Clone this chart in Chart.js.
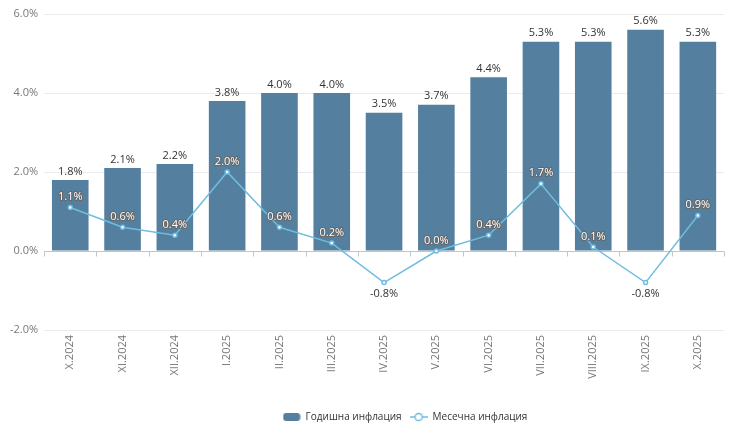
<!DOCTYPE html>
<html>
<head>
<meta charset="utf-8">
<script src="https://cdn.jsdelivr.net/npm/chart.js@4/dist/chart.umd.min.js"></script>
<style>
  html, body { margin: 0; padding: 0; background: #fff; }
  #wrap { width: 752px; height: 423px; position: relative; }
</style>
</head>
<body>
<div id="wrap"><canvas id="chart"></canvas></div>
<script>
const periods = ['X.2024', 'XI.2024', 'XII.2024', 'I.2025', 'II.2025', 'III.2025', 'IV.2025',
  'V.2025', 'VI.2025', 'VII.2025', 'VIII.2025', 'IX.2025', 'X.2025'];
const annualInflation = [1.8, 2.1, 2.2, 3.8, 4.0, 4.0, 3.5, 3.7, 4.4, 5.3, 5.3, 5.6, 5.3];
const monthlyInflation = [1.1, 0.6, 0.4, 2.0, 0.6, 0.2, -0.8, 0.0, 0.4, 1.7, 0.1, -0.8, 0.9];

const barColor = '#547f9e';
const lineColor = '#6fbde0';
const fontFamily = '"Open Sans", "Noto Sans", sans-serif';

// legend symbols drawn on small canvases
function barSymbol() {
  const c = document.createElement('canvas');
  c.width = 18; c.height = 10;
  const g = c.getContext('2d');
  g.fillStyle = barColor;
  g.beginPath();
  g.roundRect(0.5, 1, 17, 8, 3);
  g.fill();
  return c;
}
function lineSymbol() {
  const c = document.createElement('canvas');
  c.width = 18; c.height = 10;
  const g = c.getContext('2d');
  g.strokeStyle = lineColor;
  g.lineWidth = 1.5;
  g.beginPath();
  g.moveTo(0, 5); g.lineTo(18, 5);
  g.stroke();
  g.fillStyle = '#fff';
  g.beginPath();
  g.arc(9, 5, 3.6, 0, Math.PI * 2);
  g.fill();
  g.stroke();
  return c;
}
const legendSymbols = [barSymbol(), lineSymbol()];

// zero line with small ticks between categories
const zeroLine = {
  id: 'zeroLine',
  afterLayout(chart) {
    // legend sits a bit right of centre in the original
    chart.legend.left += 41;
    chart.legend.right += 41;
  },
  beforeDatasetsDraw(chart) {
    const { ctx, chartArea, scales } = chart;
    const y0 = Math.round(scales.y.getPixelForValue(0)) + 0.5;
    ctx.save();
    ctx.strokeStyle = '#c4c4c4';
    ctx.lineWidth = 1;
    ctx.beginPath();
    ctx.moveTo(chartArea.left, y0);
    ctx.lineTo(chartArea.right, y0);
    const step = (chartArea.right - chartArea.left) / periods.length;
    for (let i = 0; i <= periods.length; i++) {
      const x = Math.round(chartArea.left + i * step) + 0.5;
      ctx.moveTo(x, y0);
      ctx.lineTo(x, y0 + 5);
    }
    ctx.stroke();
    ctx.restore();
  }
};

const valueLabels = {
  id: 'valueLabels',
  afterDatasetsDraw(chart) {
    const { ctx } = chart;
    ctx.save();
    ctx.font = '11px ' + fontFamily;
    ctx.textAlign = 'center';

    chart.getDatasetMeta(0).data.forEach((bar, i) => {
      ctx.fillStyle = '#333';
      ctx.textBaseline = 'bottom';
      ctx.fillText(annualInflation[i].toFixed(1) + '%', bar.x, bar.y - 3);
    });

    chart.getDatasetMeta(1).data.forEach((pt, i) => {
      const v = monthlyInflation[i];
      const txt = v.toFixed(1) + '%';
      if (v < 0) {
        ctx.textBaseline = 'top';
        ctx.fillStyle = '#333';
        ctx.fillText(txt, pt.x, pt.y + 6);
      } else {
        ctx.textBaseline = 'bottom';
        ctx.lineWidth = 2;
        ctx.strokeStyle = '#666';
        ctx.lineJoin = 'round';
        ctx.strokeText(txt, pt.x, pt.y - 5);
        ctx.fillStyle = '#fff';
        ctx.fillText(txt, pt.x, pt.y - 5);
      }
    });
    ctx.restore();
  }
};

new Chart(document.getElementById('chart'), {
  data: {
    labels: periods,
    datasets: [
      {
        type: 'bar',
        label: 'Годишна инфлация',
        data: annualInflation,
        backgroundColor: barColor,
        categoryPercentage: 1,
        barPercentage: 0.7,
        order: 2
      },
      {
        type: 'line',
        label: 'Месечна инфлация',
        data: monthlyInflation,
        borderColor: lineColor,
        backgroundColor: lineColor,
        borderWidth: 1.5,
        pointStyle: 'circle',
        pointRadius: 2,
        pointBorderWidth: 1.5,
        pointBackgroundColor: '#fff',
        pointBorderColor: lineColor,
        tension: 0,
        order: 1
      }
    ]
  },
  options: {
    responsive: true,
    maintainAspectRatio: false,
    animation: false,
    layout: { padding: { left: 4, right: 28, top: 14, bottom: -9 } },
    plugins: {
      tooltip: { enabled: false },
      legend: {
        position: 'bottom',
        labels: {
          usePointStyle: true,
          pointStyleWidth: 18,
          boxHeight: 10,
          color: '#333',
          padding: 8,
          font: { family: fontFamily, size: 10 },
          generateLabels(chart) {
            return chart.data.datasets.map((ds, i) => ({
              text: ds.label,
              datasetIndex: i,
              pointStyle: legendSymbols[i],
              fontColor: '#333'
            }));
          }
        }
      }
    },
    scales: {
      x: {
        grid: { display: false, drawTicks: false },
        border: { display: false },
        afterFit(scale) { scale.height = 74; },
        ticks: {
          maxRotation: 90,
          minRotation: 90,
          padding: 5,
          color: '#777',
          font: { family: fontFamily, size: 11 }
        }
      },
      y: {
        min: -2,
        max: 6,
        grid: { color: '#e8ecf0', drawTicks: false },
        border: { display: false },
        ticks: {
          stepSize: 2,
          padding: 6,
          color: '#777',
          font: { family: fontFamily, size: 11 },
          callback: v => v.toFixed(1) + '%'
        }
      }
    }
  },
  plugins: [zeroLine, valueLabels]
});
</script>
</body>
</html>
